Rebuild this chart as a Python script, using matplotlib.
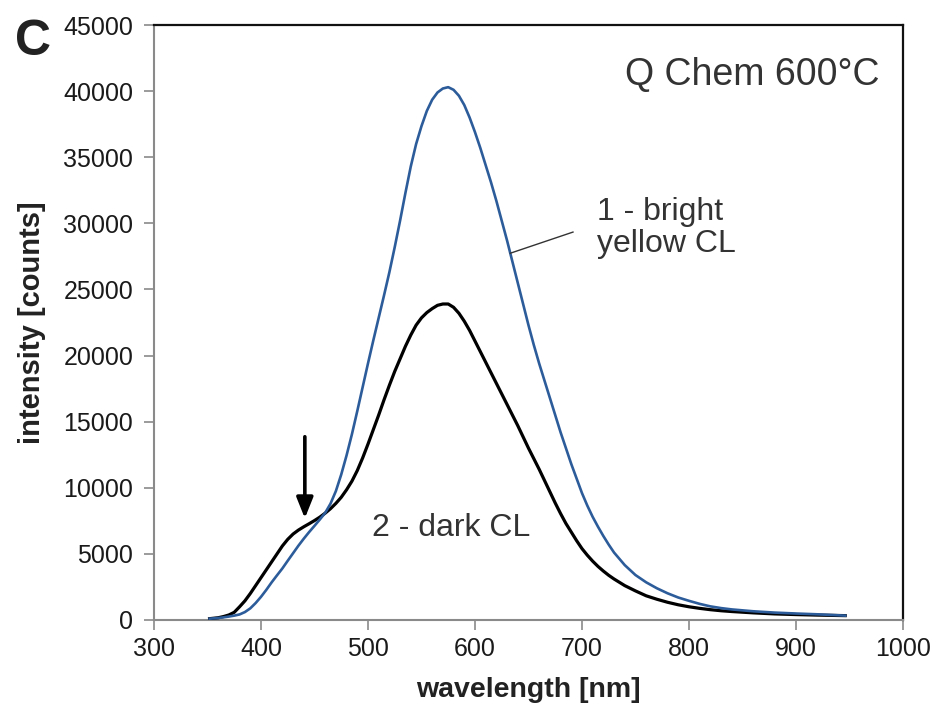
import matplotlib
matplotlib.use("Agg")
import matplotlib.pyplot as plt
import numpy as np

plt.rcParams['font.family'] = ['Liberation Sans', 'DejaVu Sans']

# Wavelength grid [nm]
wavelength = [352, 360,
              365, 370, 375, 380, 385, 390, 395, 400, 405, 410, 415, 420, 425,
              430, 435, 440, 445, 450, 455, 460, 465, 470, 475, 480, 485, 490,
              495, 500, 505, 510, 515, 520, 525, 530, 535, 540, 545, 550, 555,
              560, 565, 570, 575, 580, 585, 590, 595, 600, 605, 610, 615, 620,
              625, 630, 635, 640, 645, 650, 655, 660, 665, 670, 675, 680, 685,
              690, 695, 700, 705, 710, 715, 720, 725, 730,
              740, 750, 760, 770, 780, 790, 800, 810, 820, 830, 840,
              860, 880, 900, 920, 946]

# 1 - bright yellow CL
bright = [100, 150,
          200, 260, 330, 420, 600, 880, 1280, 1750, 2280, 2850, 3380, 3900,
          4480, 5050, 5620, 6150, 6650, 7120, 7600, 8100, 8800, 9750, 11000,
          12450, 14050, 15800, 17600, 19400, 21150, 22850, 24550, 26300, 28200,
          30200, 32300, 34300, 36000, 37350, 38500, 39350, 39900, 40200, 40300,
          40100, 39650, 38950, 38000, 36900, 35700, 34400, 33100, 31700, 30200,
          28700, 27100, 25500, 23900, 22300, 20800, 19400, 18100, 16800, 15500,
          14200, 13000, 11800, 10700, 9600, 8650, 7800, 7050, 6350, 5700, 5100,
          4150, 3400, 2850, 2400, 2020, 1700, 1450, 1220, 1030, 900, 800,
          660, 560, 490, 430, 330]

# 2 - dark CL
dark = [100, 170,
        260, 380, 580, 1000, 1450, 2000, 2600, 3200, 3800, 4400, 5000, 5600,
        6100, 6500, 6800, 7050, 7280, 7520, 7780, 8080, 8420, 8820, 9280, 9850,
        10500, 11300, 12250, 13300, 14400, 15500, 16650, 17750, 18800, 19750,
        20700, 21550, 22300, 22850, 23250, 23550, 23800, 23900, 23900, 23650,
        23200, 22600, 21900, 21100, 20300, 19500, 18700, 17900, 17100, 16300,
        15500, 14700, 13850, 13000, 12200, 11400, 10550, 9700, 8850, 8050, 7300,
        6650, 6000, 5400, 4900, 4450, 4050, 3700, 3380, 3100,
        2600, 2200, 1830, 1570, 1340, 1150, 1000, 880, 780, 700, 640,
        540, 460, 410, 370, 330]

xticks = [300, 400, 500, 600, 700, 800, 900, 1000]
yticks = [0, 5000, 10000, 15000, 20000, 25000, 30000, 35000, 40000, 45000]

fig = plt.figure(figsize=(9.36, 7.11), dpi=100)
ax = fig.add_axes([0.1645, 0.128, 0.8002, 0.8368])

ax.plot(wavelength, dark, color='black', lw=2.3, zorder=3,
        solid_joinstyle='round')
ax.plot(wavelength, bright, color='#2d5c9a', lw=1.9, zorder=4,
        solid_joinstyle='round')

ax.set_xlim(300, 1000)
ax.set_ylim(0, 45000)
ax.set_xticks(xticks)
ax.set_yticks(yticks)
ax.set_xticklabels([str(t) for t in xticks])
ax.set_yticklabels([str(t) for t in yticks])

ax.tick_params(axis='both', direction='out', length=7, width=1.2,
               color='#8a8a8a', labelsize=18, labelcolor='#1a1a1a')
ax.tick_params(axis='y', pad=8)
ax.tick_params(axis='x', pad=5)

for side in ('left', 'bottom'):
    ax.spines[side].set_color('#8a8a8a')
    ax.spines[side].set_linewidth(1.5)
for side in ('top', 'right'):
    ax.spines[side].set_color('#111111')
    ax.spines[side].set_linewidth(1.6)

ax.set_xlabel('wavelength [nm]', fontsize=20.5, fontweight='bold',
              color='#222222', labelpad=12)
ax.set_ylabel('intensity [counts]', fontsize=21, fontweight='bold',
              color='#222222', labelpad=12)

# Annotations
ax.text(0.969, 0.916, 'Q Chem 600°C', transform=ax.transAxes, ha='right',
        va='center', fontsize=27, color='#333333')
ax.text(0.591, 0.659, '1 - bright\nyellow CL', transform=ax.transAxes,
        ha='left', va='center', fontsize=23, color='#333333', linespacing=1.1)
ax.text(0.291, 0.155, '2 - dark CL', transform=ax.transAxes, ha='left',
        va='center', fontsize=23, color='#333333')

# leader line from the bright spectrum to its label
lead_x = 633.0
lead_y = float(np.interp(lead_x, wavelength, bright))
ax.plot([lead_x, 691.6], [lead_y, 29340], color='#333333', lw=1.0, zorder=5)

# arrow marking the shoulder of the dark CL spectrum
ax.annotate('', xy=(441, 7690), xytext=(441, 13860),
            arrowprops=dict(arrowstyle='-|>,head_length=1.25,head_width=0.5',
                            color='black', lw=2.6, shrinkA=0, shrinkB=0))

fig.text(0.016, 0.941, 'C', fontsize=36, fontweight='bold', color='#222222',
         ha='left', va='center')

fig.savefig('out.png', dpi=100)
